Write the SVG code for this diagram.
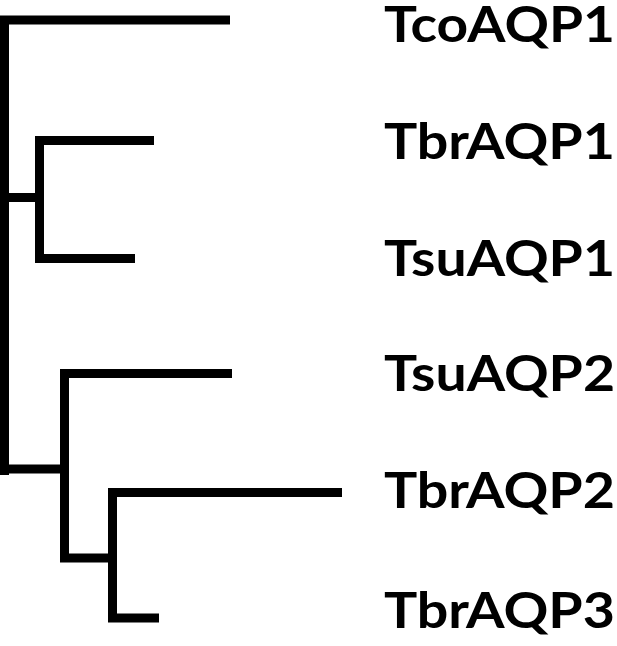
<svg xmlns="http://www.w3.org/2000/svg" width="617" height="646" viewBox="0 0 617 646">
<style>
.e{fill:none;stroke:#000;stroke-width:9;stroke-linejoin:miter;stroke-linecap:butt}
.l{font-family:Lato,"Open Sans","Liberation Sans",sans-serif;font-weight:bold;font-size:50px;fill:#000}
</style>
<rect width="617" height="646" fill="#fff"/>
<g id="connectors">
<path class="e" d="M230,20 H4.5 V475"/>
<path class="e" d="M4.5,197.5 H39.5"/>
<path class="e" d="M154,140.5 H39.5 V258.5 H135"/>
<path class="e" d="M4.5,469 H64.5"/>
<path class="e" d="M232,373.5 H64.5 V558 H112.5"/>
<path class="e" d="M342,492.5 H112.5 V618 H159"/>
</g>
<g id="TcoAQP1"><text class="l" x="384" y="42" textLength="231" lengthAdjust="spacingAndGlyphs">TcoAQP1</text></g>
<g id="TbrAQP1"><text class="l" x="384" y="159" textLength="231" lengthAdjust="spacingAndGlyphs">TbrAQP1</text></g>
<g id="TsuAQP1"><text class="l" x="384" y="276" textLength="231" lengthAdjust="spacingAndGlyphs">TsuAQP1</text></g>
<g id="TsuAQP2"><text class="l" x="384" y="391" textLength="231" lengthAdjust="spacingAndGlyphs">TsuAQP2</text></g>
<g id="TbrAQP2"><text class="l" x="384" y="508" textLength="231" lengthAdjust="spacingAndGlyphs">TbrAQP2</text></g>
<g id="TbrAQP3"><text class="l" x="384" y="628" textLength="231" lengthAdjust="spacingAndGlyphs">TbrAQP3</text></g>
</svg>
